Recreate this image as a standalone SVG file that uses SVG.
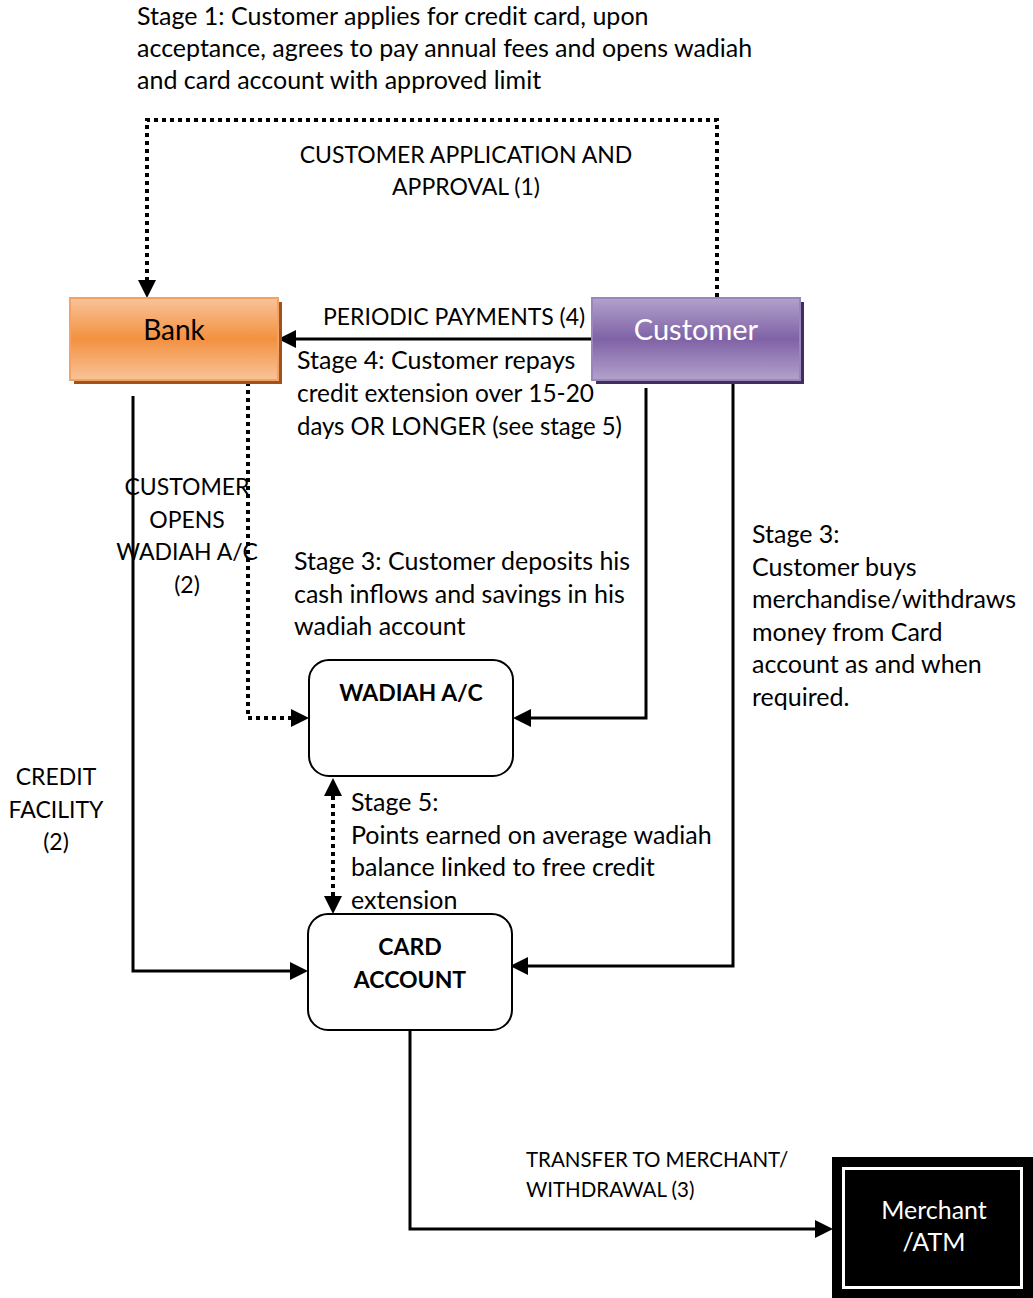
<svg xmlns="http://www.w3.org/2000/svg" width="1033" height="1298" viewBox="0 0 1033 1298">
  <style>
    text { font-family: Lato, "Liberation Sans", sans-serif; fill: #000; }
    .t { font-size: 25px; }
    .u { font-size: 23px; }
    .sm { font-size: 20.5px; }
    .b { font-size: 23px; font-weight: bold; }
    .mid { text-anchor: middle; }
    .solid { fill: none; stroke: #000; stroke-width: 3; }
    .dot { fill: none; stroke: #000; stroke-width: 4; stroke-dasharray: 4 4; }
    .node { fill: #fff; stroke: #000; stroke-width: 2; }
    .head { fill: #000; }
  </style>
  <defs>
    <linearGradient id="gOrange" x1="0" y1="0" x2="0" y2="1">
      <stop offset="0" stop-color="#f9c39a"/>
      <stop offset="0.5" stop-color="#f39140"/>
      <stop offset="1" stop-color="#f9c39a"/>
    </linearGradient>
    <linearGradient id="gPurple" x1="0" y1="0" x2="0" y2="1">
      <stop offset="0" stop-color="#b3a2cb"/>
      <stop offset="0.5" stop-color="#7f62a6"/>
      <stop offset="1" stop-color="#b3a2cb"/>
    </linearGradient>
  </defs>

  <!-- free-standing notes -->
  <g id="notes">
    <text class="t" x="137" y="25">Stage 1: Customer applies for credit card, upon</text>
    <text class="t" x="137" y="57">acceptance, agrees to pay annual fees and opens wadiah</text>
    <text class="t" x="137" y="89">and card account with approved limit</text>

    <text class="u mid" x="466" y="163">CUSTOMER APPLICATION AND</text>
    <text class="u mid" x="466" y="195">APPROVAL (1)</text>

    <text class="u" x="323" y="325">PERIODIC PAYMENTS (4)</text>
    <text class="t" x="297" y="369">Stage 4: Customer repays</text>
    <text class="t" x="297" y="402" textLength="297" lengthAdjust="spacingAndGlyphs">credit extension over 15-20</text>
    <text class="t" x="297" y="435" textLength="325" lengthAdjust="spacingAndGlyphs">days OR LONGER (see stage 5)</text>

    <text class="u mid" x="187" y="495">CUSTOMER</text>
    <text class="u mid" x="187" y="528">OPENS</text>
    <text class="u mid" x="187" y="560">WADIAH A/C</text>
    <text class="u mid" x="187" y="593">(2)</text>

    <text class="t" x="294" y="570">Stage 3: Customer deposits his</text>
    <text class="t" x="294" y="603">cash inflows and savings in his</text>
    <text class="t" x="294" y="635">wadiah account</text>

    <text class="t" x="752" y="543">Stage 3:</text>
    <text class="t" x="752" y="576">Customer buys</text>
    <text class="t" x="752" y="608">merchandise/withdraws</text>
    <text class="t" x="752" y="641">money from Card</text>
    <text class="t" x="752" y="673">account as and when</text>
    <text class="t" x="752" y="706">required.</text>

    <text class="u mid" x="56" y="785">CREDIT</text>
    <text class="u mid" x="56" y="818">FACILITY</text>
    <text class="u mid" x="56" y="850">(2)</text>

    <text class="t" x="351" y="811">Stage 5:</text>
    <text class="t" x="351" y="844">Points earned on average wadiah</text>
    <text class="t" x="351" y="876">balance linked to free credit</text>
    <text class="t" x="351" y="909">extension</text>

    <text class="sm" x="526" y="1167">TRANSFER TO MERCHANT/</text>
    <text class="sm" x="526" y="1197">WITHDRAWAL (3)</text>
  </g>

  <!-- connectors -->
  <g id="connectors">
    <!-- application & approval: customer to bank -->
    <path class="dot" d="M717,297 V120 H147 V282"/>
    <path class="head" d="M138,280 L156,280 L147,298 z"/>
    <!-- periodic payments -->
    <path class="solid" d="M592,339 H296"/>
    <path class="head" d="M296,330 L296,348 L278,339 z"/>
    <!-- bank opens wadiah account -->
    <path class="dot" d="M248,382 V718 H292"/>
    <path class="head" d="M291,709 L291,727 L309,718 z"/>
    <!-- credit facility -->
    <path class="solid" d="M133,396 V971 H292"/>
    <path class="head" d="M290,962 L290,980 L308,971 z"/>
    <!-- customer deposits -->
    <path class="solid" d="M646,388 V718 H530"/>
    <path class="head" d="M531,709 L531,727 L513,718 z"/>
    <!-- customer purchases / withdrawals -->
    <path class="solid" d="M733,382 V966 H527"/>
    <path class="head" d="M528,957 L528,975 L510,966 z"/>
    <!-- points link between accounts -->
    <path class="dot" d="M333,796 V896"/>
    <path class="head" d="M324,796 L342,796 L333,778 z"/>
    <path class="head" d="M324,896 L342,896 L333,914 z"/>
    <!-- transfer to merchant -->
    <path class="solid" d="M410,1030 V1229 H816"/>
    <path class="head" d="M815,1220 L815,1238 L833,1229 z"/>
  </g>

  <!-- Bank -->
  <g id="bank">
    <rect x="74" y="302" width="208" height="82" fill="#a0521a"/>
    <rect x="70" y="298" width="208" height="82" fill="url(#gOrange)" stroke="#f5a162" stroke-width="2"/>
    <text class="mid" x="174" y="340" style="font-size:28px">Bank</text>
  </g>

  <!-- Customer -->
  <g id="customer">
    <rect x="596" y="302" width="208" height="82" fill="#3f2f5c"/>
    <rect x="592" y="298" width="208" height="82" fill="url(#gPurple)" stroke="#9a85bd" stroke-width="2"/>
    <text class="mid" x="696" y="340" style="font-size:29px;fill:#fff">Customer</text>
  </g>

  <!-- Wadiah account -->
  <g id="wadiah">
    <rect class="node" x="309" y="660" width="204" height="116" rx="20"/>
    <text class="b mid" x="411" y="701">WADIAH A/C</text>
  </g>

  <!-- Card account -->
  <g id="card">
    <rect class="node" x="308" y="914" width="204" height="116" rx="20"/>
    <text class="b mid" x="410" y="955">CARD</text>
    <text class="b mid" x="410" y="988">ACCOUNT</text>
  </g>

  <!-- Merchant / ATM -->
  <g id="merchant">
    <rect x="832" y="1157" width="201" height="141" fill="#000"/>
    <rect x="843.5" y="1168.5" width="178" height="119" fill="none" stroke="#fff" stroke-width="3"/>
    <text class="mid" x="934" y="1219" style="font-size:25px;fill:#fff">Merchant</text>
    <text class="mid" x="934" y="1251" style="font-size:25px;fill:#fff">/ATM</text>
  </g>
</svg>
